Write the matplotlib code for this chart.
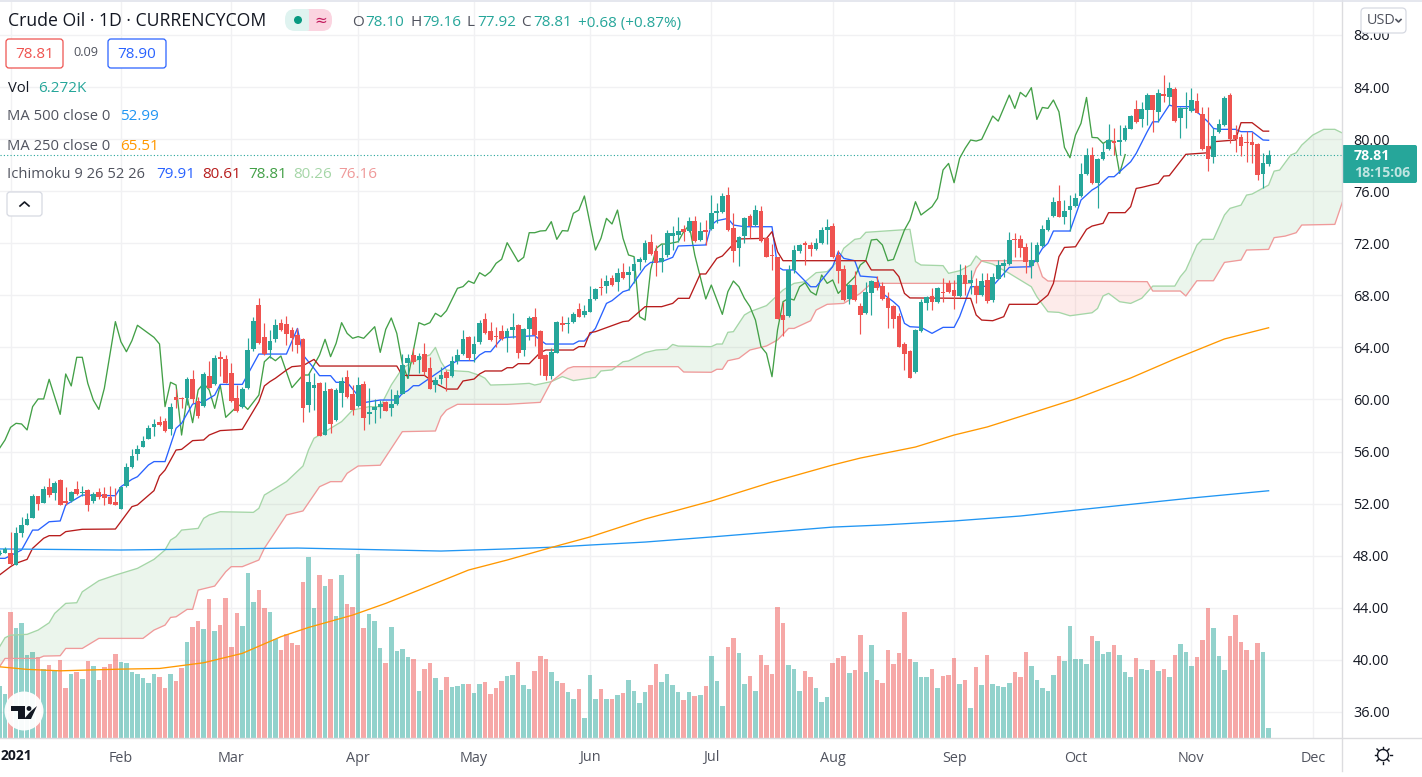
import numpy as np
import matplotlib
matplotlib.use("Agg")
import matplotlib.pyplot as plt
from matplotlib.patches import Rectangle, FancyBboxPatch, Circle, Polygon

plt.rcParams['font.family'] = ['Open Sans', 'DejaVu Sans']

# DAILY CANDLES, ONE VALUE PER TRADING DAY
opens = [48.11,48.23,48.19,47.29,49.72,50.39,50.92,52.59,52.08,53.28,
52.82,53.82,52.23,52.18,53.1,52.79,53.05,52.23,52.9,52.77,
52.49,52.1,51.62,53.36,54.82,55.81,56.38,56.97,57.89,58.27,
58.35,57.71,60.17,60.09,60.09,61.55,59.86,59.5,61.8,61.19,
63.26,63.11,62.01,60.11,59.4,60.86,63.88,67.26,64.8,63.8,
64.65,65.87,65.8,65.34,64.93,64.65,59.58,60.91,61.27,57.3,
60.81,58.43,60.5,61.7,60.42,59.5,61.19,58.91,59.22,59.45,
59.81,59.37,59.65,60.45,62.8,63.42,63.03,63.49,62.42,61.11,
61.57,62.11,61.8,62.96,63.49,64.8,63.49,64.41,66.18,65.26,
64.88,65.23,64.77,65.34,65.72,63.8,65.41,66.33,65.26,63.42,
61.83,63.6,65.85,65.82,65.95,66.95,66.49,66.75,67.72,68.61,
68.72,69.33,69.02,69.79,69.56,69.87,70.56,70.71,72.1,71.4,
70.56,71.1,72.56,72.63,73.09,72.94,73.71,72.25,73.02,73.09,
74.3,74.4,75.7,73.17,71.63,72.56,74.09,73.4,74.48,72.4,
71.07,70.92,66.49,66.41,69.95,71.4,71.99,71.86,71.56,72.02,
73.02,73.32,71.1,70.02,67.69,68.79,67.18,66.64,68.18,69.02,
68.72,67.8,67.18,66.41,64.26,63.72,62.11,65.26,67.41,67.95,
67.49,68.26,68.95,68.41,67.94,69.56,68.97,68.71,68.02,69.17,
67.64,69.25,70.25,70.4,72.32,72.3,71.71,70.25,70.58,71.78,
73.01,74.09,75.24,74.01,74.55,74.86,75.63,77.31,78.77,76.63,
78.47,79.24,79.85,79.75,79.93,80.8,82.31,81.51,82.23,83.38,
82.1,83.46,83.25,83.84,81.64,82.28,82.18,82.92,81.92,79.47,
78.62,80.54,81.08,83.38,80.31,80.16,79.77,79.75,79.62,77.31,
78.10]
highs = [48.44,48.64,49.85,50.23,50.95,51.26,52.74,52.59,53.38,53.94,
53.71,53.87,53.31,53.0,53.77,53.36,53.1,52.92,53.18,53.25,
53.36,53.18,53.31,55.1,56.17,56.5,57.2,58.04,58.48,58.76,
58.55,59.7,60.78,60.22,61.7,62.26,60.22,62.14,62.98,63.42,
63.7,63.42,62.83,61.11,60.98,64.7,66.31,67.77,65.9,65.34,
66.18,66.21,66.41,65.54,65.46,64.7,62.01,62.06,61.32,61.32,
60.86,60.86,61.7,62.26,61.11,61.7,61.42,60.86,60.01,59.96,
59.86,60.78,60.73,63.49,63.49,63.93,63.55,64.31,63.29,61.75,
62.52,62.26,63.34,63.85,65.34,64.88,64.88,66.1,66.62,65.93,
65.54,65.72,65.46,66.62,65.77,65.46,66.44,67.03,65.31,63.47,
63.93,66.05,66.44,66.36,66.74,67.38,67.26,68.72,68.54,69.3,
69.56,69.56,70.07,70.46,70.25,70.92,70.92,72.25,72.71,71.86,
71.94,73.02,73.32,74.04,73.4,73.99,74.09,73.66,73.78,75.7,
75.06,75.83,76.29,74.3,72.58,74.04,74.25,74.94,74.86,72.43,
71.94,70.97,67.51,70.33,71.86,71.94,72.17,72.12,72.38,73.27,
73.86,73.53,71.48,70.33,68.84,69.87,67.38,69.05,69.18,69.48,
69.05,68.28,67.26,66.62,64.44,63.8,65.39,67.69,67.95,68.54,
68.66,69.3,69.18,69.18,70.4,70.33,69.94,69.3,69.69,69.69,
69.69,70.71,70.76,72.89,72.76,72.63,72.04,72.12,72.12,73.4,
74.04,75.57,76.47,75.32,75.7,75.83,78.13,79.29,79.41,78.52,
79.67,81.15,80.82,81.08,81.08,81.85,83.0,82.87,83.51,83.38,
83.82,84.92,84.38,83.97,82.49,83.64,83.89,83.51,82.49,82.49,
80.82,81.51,83.3,83.51,81.08,80.39,80.64,80.57,79.67,78.9,
79.16]
lows = [48.06,48.19,47.29,47.29,49.46,50.39,50.92,51.51,52.03,52.49,
52.28,51.9,51.9,52.13,52.66,52.59,51.44,52.08,52.33,51.87,
51.95,51.87,51.62,53.31,54.71,55.35,56.38,56.97,57.2,57.96,
57.53,57.27,59.32,59.32,59.58,59.76,58.55,59.45,60.86,61.11,
61.8,61.24,59.83,59.06,59.32,60.8,63.75,64.26,63.42,63.16,
64.44,65.26,64.19,63.75,63.55,58.27,59.06,59.19,57.2,57.25,
57.45,58.37,59.4,60.14,58.81,59.45,57.66,58.14,58.17,58.55,
59.09,58.76,59.58,60.42,61.62,62.73,62.01,61.88,60.78,60.58,
61.19,60.65,61.75,62.73,63.44,63.03,62.9,64.26,65.03,64.52,
64.06,64.57,63.67,64.7,63.16,63.34,64.57,64.13,61.88,61.5,
61.55,63.55,65.29,65.13,65.85,66.31,66.31,66.72,67.64,68.02,
68.2,68.72,68.33,69.28,68.41,68.92,69.95,70.59,71.12,69.48,
69.82,70.92,71.48,72.12,72.2,72.89,72.12,72.2,71.86,73.02,
73.53,74.35,72.97,70.59,70.25,72.04,72.38,73.32,72.12,70.92,
69.95,66.16,64.9,66.36,69.69,71.23,70.33,71.02,71.48,71.94,
71.94,70.89,68.92,67.59,67.33,67.59,65.03,66.57,66.49,68.41,
67.64,65.49,65.46,64.0,62.27,61.63,62.01,65.21,66.87,66.87,
67.38,67.51,68.2,66.92,67.89,68.02,68.1,67.43,67.97,67.43,
67.51,69.22,69.43,70.35,70.97,70.97,69.69,69.3,70.53,71.73,
72.96,74.04,73.99,73.47,72.96,74.75,75.57,77.24,76.55,74.73,
78.39,79.16,78.77,78.77,79.87,80.75,81.21,80.95,81.08,80.57,
81.33,82.87,82.61,81.33,80.08,80.82,82.1,81.97,79.16,77.57,
78.13,80.49,81.03,79.67,79.03,78.72,78.26,78.19,76.85,76.21,
77.92]
closes = [48.19,48.49,47.37,49.77,50.33,50.82,52.59,52.0,53.13,52.66,
53.56,51.9,52.03,52.9,52.74,52.84,51.9,52.74,52.54,52.41,
52.0,51.9,53.25,54.79,55.64,56.2,56.81,57.79,58.09,58.04,
57.58,59.42,59.96,60.01,61.57,60.01,58.73,61.96,60.88,63.19,
63.14,61.27,59.88,59.14,60.8,63.8,66.03,64.34,63.49,64.49,
65.7,65.34,65.03,64.72,64.19,59.35,61.34,61.11,57.22,60.65,
58.12,60.73,61.42,60.19,59.19,61.11,58.58,59.04,59.42,59.65,
59.12,59.65,60.32,62.65,63.19,62.88,63.34,62.11,60.8,61.5,
61.88,61.65,62.96,63.42,64.65,63.19,64.26,65.87,65.08,64.57,
64.77,64.65,65.26,65.54,63.6,65.41,66.23,64.98,63.13,61.83,
63.65,65.95,65.75,65.87,66.57,66.33,66.8,67.72,68.49,68.54,
69.1,68.79,69.71,69.33,69.79,70.41,70.79,72.02,71.17,70.48,
70.87,72.79,72.79,72.94,72.86,73.71,72.17,72.94,72.86,74.32,
74.48,75.63,73.02,71.4,72.48,73.94,73.32,74.55,72.17,70.94,
71.02,66.21,66.1,69.92,71.48,71.86,71.86,71.56,72.02,73.02,
73.22,70.94,69.87,67.64,68.79,67.64,66.49,68.26,69.1,68.59,
67.72,67.03,66.18,64.03,63.49,61.65,65.34,67.49,67.87,67.49,
68.56,68.18,68.26,67.95,69.56,68.87,69.17,68.02,69.1,67.56,
69.4,70.33,70.51,72.25,72.25,71.66,70.58,70.71,71.86,73.09,
73.78,75.16,74.04,74.47,74.86,75.47,77.31,78.77,76.6,78.47,
79.0,79.93,79.72,79.93,80.85,81.77,81.31,82.28,83.38,82.23,
83.54,83.31,83.92,81.39,82.38,82.38,83.0,82.03,79.24,78.47,
80.23,81.15,83.15,80.0,80.0,79.47,79.72,79.57,77.24,78.16,
78.81]
# VOLUME IN THOUSANDS
volume = [31.2,26.4,75.6,66,69,49.8,51.6,48.8,41.4,43.8,
40.2,46.8,30,38.4,39.6,35.4,46.2,43.2,34.8,42.6,
44.4,50.4,45.6,45,39.6,38.4,36,33,38.4,36.6,
30,38.4,34.2,42,57.6,66.6,70.2,65.4,83.4,64.2,
67.8,84,54.6,75,67.2,99,81.6,88.8,78,75.6,
59.4,52.8,62.4,57,55.8,93.6,108.6,78,97.8,91.2,
95.4,73.2,97.8,80.4,78.6,110.4,66,74.4,70.2,54,
45,66.6,52.2,53.4,48.6,47.4,28.2,41.4,45,36,
28.8,36.6,30.6,31.2,32.4,32.4,27,32.4,33.6,26.4,
30,34.2,37.2,37.8,45.6,31.8,29.4,40.2,49.2,47.4,
39.6,34.2,33,27.6,23.4,29.4,12,37.8,23.4,29.4,
23.4,23.4,25.8,27,34.8,28.2,21,27.6,31.8,44.4,
33.6,38.4,31.8,27.6,22.8,27.6,25.2,25.8,31.2,49.2,
34.4,19.4,54.8,60.2,51.2,32.6,37.4,28.4,50,44,
38.6,78.8,69.2,44,41.6,28.4,40.4,36.8,30.2,21.8,
24.8,45.2,48.2,49.4,39.2,41,62,39.8,56,35,
33.2,53,44.6,51.2,75.8,47.6,45.8,36.8,36.8,41.6,
30.2,37.4,38,48.2,32.6,35,18.2,42.8,32,50,
32.6,31.4,30.8,33.2,39.8,36.8,51.8,43.4,35,30.2,
28.4,38,49.4,46.4,67.4,47.6,47.6,44.6,61.4,58.4,
50.6,51.8,56,50,39.8,36.8,48.2,41.6,41,47,
40.4,41.6,36.8,50,56.6,51.8,43.4,48.8,59,78.2,
66.2,49.4,41,61.4,74,57.8,53,47,57.2,51.8,
6.272]

# INDICATORS AS (DAY, PRICE) TURNING POINTS
tenkan = [(0,47.8),(1,47.8),(4,48.44),(6,49.97),(7,49.97),(9,50.61),(11,50.67),(12,51.9),(15,52.66),(21,52.61),
(22,53.3),(24,53.87),(25,54.07),(27,54.97),(28,55.23),(30,55.23),(32,57.79),(33,58.17),(35,59.65),(37,59.83),
(39,60.34),(40,61.16),(44,61.16),(47,63.49),(52,63.49),(54,65.46),(55,63.42),(57,62.39),(58,61.83),(60,61.83),
(61,61.32),(63,61.32),(66,59.76),(69,59.96),(72,59.96),(73,60.47),(74,60.68),(75,61.06),(76,61.06),(81,62.52),
(83,62.98),(86,62.98),(87,63.42),(88,63.67),(89,63.67),(91,64.7),(92,64.77),(97,64.9),(98,64.57),(99,64.26),
(104,64.26),(105,64.49),(106,64.49),(108,65.46),(110,67.38),(111,67.59),(113,68.28),(114,68.41),(117,70.2),(118,70.53),
(120,70.59),(122,70.92),(123,71.79),(128,71.87),(129,73.4),(130,73.73),(132,73.91),(133,73.4),(135,73.27),(140,73.27),
(141,70.2),(142,69.95),(144,69.95),(147,68.66),(148,68.66),(151,70.2),(152,71.35),(153,70.84),(155,70.66),(156,69.48),
(159,69.38),(160,68.15),(162,67.51),(163,67.13),(164,65.85),(165,65.59),(167,65.54),(169,65.08),(171,65.54),(173,65.54),
(174,66.36),(176,68.66),(180,68.71),(183,70.15),(187,70.2),(189,71.6),(190,72.0),(191,72.94),(194,72.94),(196,75.32),
(198,76.09),(199,76.34),(201,77.11),(202,77.11),(205,78.26),(206,78.9),(208,80.57),(209,81.33),(210,81.33),(212,82.61),
(213,82.49),(216,82.49),(217,82.1),(219,81.33),(220,80.82),(221,80.75),(224,80.75),(225,80.57),(227,80.57),(229,79.93),(230,79.91)]
kijun = [(0,46.52),(2,47.16),(3,47.42),(5,47.72),(6,48.57),(8,49.34),(9,49.54),(11,49.54),(12,49.85),(15,50.03),
(21,50.05),(22,50.62),(24,51.77),(25,51.9),(28,53.0),(29,54.12),(30,54.58),(32,56.12),(33,56.17),(35,56.84),
(37,56.89),(38,57.27),(40,57.61),(44,57.71),(47,59.83),(48,61.04),(49,61.37),(50,61.63),(52,62.26),(53,62.52),
(55,62.6),(57,63.08),(58,62.57),(72,62.57),(73,61.85),(77,61.85),(79,61.24),(81,60.8),(83,60.8),(84,61.42),
(86,61.57),(87,61.96),(88,62.19),(91,62.19),(92,62.44),(93,62.44),(94,62.75),(96,62.75),(98,63.6),(99,63.8),
(104,63.8),(105,64.06),(106,64.06),(107,65.13),(108,65.21),(113,65.98),(114,66.03),(117,67.13),(120,67.13),(122,67.38),
(123,67.77),(125,67.77),(127,69.64),(128,69.64),(130,70.84),(131,71.02),(133,71.94),(134,72.33),(138,72.37),(139,72.37),
(140,72.89),(141,71.35),(142,70.66),(157,70.66),(158,69.95),(162,69.95),(163,69.43),(164,68.15),(165,67.8),(176,67.77),
(177,66.49),(178,66.1),(180,66.05),(182,66.36),(183,67.31),(188,67.31),(190,68.02),(191,68.92),(192,70.97),(193,71.68),
(195,71.73),(197,73.07),(198,73.32),(200,73.53),(201,74.35),(204,74.35),(205,74.81),(206,76.21),(207,76.29),(210,76.6),
(211,77.16),(212,77.19),(215,78.83),(219,78.95),(220,79.8),(224,79.93),(225,81.26),(227,81.26),(229,80.61),(230,80.61)]
chikou = [(0,56.25),(1,56.89),(2,57.86),(3,58.17),(4,58.12),(5,57.66),(6,59.45),(7,60.04),(8,60.04),(9,61.55),
(11,58.86),(12,61.96),(13,61.04),(14,63.24),(15,63.24),(16,61.24),(17,59.96),(18,59.24),(19,60.86),(21,65.98),
(22,64.44),(23,63.67),(24,64.52),(25,65.7),(26,65.39),(27,65.08),(28,64.77),(29,64.26),(30,59.45),(31,61.32),
(32,61.11),(33,57.27),(34,60.22),(35,58.22),(36,60.73),(37,61.24),(38,60.73),(39,59.32),(40,61.11),(41,58.63),
(43,59.45),(44,59.65),(45,59.24),(47,60.34),(48,62.9),(49,63.29),(50,62.98),(51,63.34),(53,60.91),(55,61.88),
(56,61.88),(58,63.42),(59,64.62),(60,63.29),(61,64.31),(62,65.9),(63,65.08),(64,64.7),(65,64.83),(66,64.7),
(68,65.59),(69,63.62),(70,65.39),(71,66.26),(72,65.08),(73,62.78),(74,61.62),(76,65.9),(77,65.72),(78,65.9),
(79,66.62),(80,66.36),(81,66.82),(83,68.54),(84,68.67),(85,69.1),(86,68.92),(87,69.74),(88,69.48),(89,69.82),
(90,70.46),(91,70.77),(92,72.04),(94,70.59),(95,70.92),(96,72.81),(97,72.81),(98,72.94),(99,72.97),(100,73.66),
(101,72.3),(102,72.97),(103,72.94),(104,74.3),(105,74.55),(106,75.63),(108,71.48),(109,72.38),(110,73.91),(111,73.48),
(112,74.55),(113,72.38),(114,71.1),(115,70.97),(116,66.36),(117,66.1),(118,69.95),(119,71.6),(120,71.94),(121,71.94),
(123,72.12),(124,72.89),(125,73.4),(126,71.1),(128,67.72),(129,68.79),(131,66.54),(132,68.28),(133,69.1),(134,68.66),
(135,67.77),(136,67.13),(137,66.1),(138,64.06),(139,63.54),(140,61.75),(141,65.34),(142,67.51),(143,67.77),(144,67.64),
(145,68.66),(146,68.97),(147,68.28),(148,68.02),(149,69.56),(150,68.92),(151,69.18),(152,68.15),(155,69.43),(156,70.33),
(157,70.66),(158,72.25),(159,72.3),(160,71.87),(161,70.66),(162,70.76),(164,73.02),(165,73.78),(166,75.19),(167,74.17),
(169,74.81),(170,75.45),(171,77.63),(172,78.13),(173,76.65),(174,78.52),(175,79.29),(176,79.93),(177,79.85),(178,79.98),
(180,81.77),(181,81.38),(183,83.38),(184,82.36),(185,83.59),(186,83.25),(187,83.95),(188,81.51),(189,82.43),(190,82.36),
(191,83.0),(192,82.1),(193,79.36),(194,78.57),(195,80.31),(196,81.21),(197,83.2),(198,80.13),(199,80.1),(200,79.67),
(201,79.93),(202,79.8),(203,77.37),(204,78.81)]
span_a = [(0,41.0),(1,41.7),(2,41.9),(5,41.96),(7,42.29),(9,42.85),(10,43.57),(12,44.34),(14,44.39),(15,45.23),
(18,46.08),(21,46.51),(25,47.03),(28,47.72),(30,48.44),(31,49.2),(32,49.47),(33,49.97),(36,50.1),(37,50.87),
(38,51.13),(40,51.38),(46,51.33),(47,51.64),(48,52.66),(49,52.92),(52,53.69),(55,54.89),(56,56.12),(57,57.02),
(58,57.27),(62,58.3),(64,59.19),(67,59.45),(69,59.45),(71,61.11),(72,61.75),(73,62.39),(75,62.9),(77,63.29),
(78,63.42),(79,64.0),(80,62.9),(81,62.26),(83,62.19),(85,62.14),(87,61.85),(88,61.63),(89,61.11),(93,61.16),
(96,61.24),(97,61.11),(100,61.37),(102,61.76),(104,61.45),(108,61.7),(109,62.19),(111,62.27),(113,62.9),(114,62.96),
(117,63.6),(119,63.8),(121,63.85),(122,64.23),(123,64.1),(129,64.06),(130,64.26),(131,64.26),(132,65.16),(133,65.21),
(135,66.49),(136,66.74),(139,67.21),(142,68.41),(144,68.92),(146,69.05),(148,69.74),(150,69.82),(152,70.66),(153,71.61),
(155,72.3),(156,72.37),(157,72.84),(165,73.07),(166,70.59),(167,70.33),(171,70.28),(172,69.69),(174,69.89),(176,70.33),
(177,71.02),(178,70.63),(180,70.4),(183,69.69),(187,68.66),(188,67.89),(190,66.74),(192,66.69),(194,66.43),(198,66.66),
(199,66.99),(200,67.95),(201,68.15),(203,67.51),(205,67.38),(207,67.77),(209,68.71),(213,68.71),(214,69.43),(215,69.94),
(217,71.86),(218,72.3),(220,72.3),(222,74.17),(223,74.68),(225,74.93),(226,75.7),(227,75.78),(230,76.47),(231,77.54),
(232,77.62),(234,78.77),(235,78.95),(236,79.54),(238,80.31),(240,80.75),(242,80.75),(243.5,80.44)]
span_b = [(0,39.47),(1,40.11),(7,40.11),(8,40.29),(11,40.32),(12,40.88),(15,40.88),(18,41.65),(26,41.65),(28,42.29),
(30,42.67),(31,43.26),(32,43.31),(34,43.88),(35,43.88),(36,45.36),(39,45.67),(41,46.77),(42,47.16),(44,47.16),
(47,47.67),(48,48.57),(52,51.13),(55,51.44),(58,53.3),(60,53.69),(62,53.69),(63,54.33),(65,54.89),(69,54.95),
(73,57.53),(79,57.58),(80,58.68),(81,59.19),(83,59.63),(92,59.63),(98,59.78),(100,61.37),(103,62.39),(104,62.52),
(123,62.52),(124,62.11),(129,62.09),(130,62.32),(131,62.32),(132,62.98),(134,63.16),(136,63.8),(139,64.11),(141,64.57),
(143,65.46),(144,65.46),(147,66.05),(148,66.87),(150,67.31),(153,67.38),(156,68.15),(158,68.92),(176,68.92),(177,70.07),
(178,70.66),(188,70.66),(189,69.43),(190,69.1),(208,69.05),(209,68.33),(214,68.33),(215,67.95),(217,69.12),(220,69.12),
(222,70.53),(225,70.71),(226,71.48),(230,71.53),(231,72.43),(233,72.55),(235,72.81),(236,73.4),(242,73.45),(243.5,75.32)]
ma500 = [(0,48.52),(22,48.44),(54,48.59),(80,48.36),(92,48.52),(101,48.67),(107,48.82),(117,49.05),(129,49.44),(140,49.82),(151,50.2),(160,50.36),(173,50.67),(185,51.05),(197,51.59),(216,52.43),(230,52.99)]
ma250 = [(0,39.47),(5,39.27),(11,39.16),(22,39.29),(29,39.34),(37,39.78),(44,40.5),(51,41.78),(56,42.49),(64,43.44),(70,44.34),(76,45.36),(85,46.9),(92,47.67),(101,48.75),(107,49.44),(117,50.82),(129,52.2),(140,53.66),(151,54.97),(156,55.5),(166,56.35),(173,57.27),(179,57.89),(187,58.96),(195,60.04),(205,61.65),(213,63.11),(222,64.65),(230,65.51)]

# AXIS LABELS
month_days = [22,42,65,86,107,129,151,173,195,216,238]
month_names = ['Feb','Mar','Apr','May','Jun','Jul','Aug','Sep','Oct','Nov','Dec']
year_day = 2
price_ticks = list(range(36,92,4))

UP = '#26a69a'
DOWN = '#ef5350'
W, H = 1422, 777
PLOT_R, PLOT_B = 1342, 738
TXT = '#131722'
GREY = '#50535e'
VAL = 11
LBL = 10.6

fig = plt.figure(figsize=(W/100, H/100), dpi=100, facecolor='white')
rect = [0, 1-PLOT_B/H, PLOT_R/W, (PLOT_B-2)/H]
x_lim = (0.09, 243.3)
y_lim = (34.0, 90.53)

# GRID AND PRICE LABELS SIT AT THE BACK, THEN VOLUME, THEN PRICE
ax_grid = fig.add_axes(rect, zorder=0)
ax_grid.set_xlim(x_lim)
ax_grid.set_ylim(y_lim)
ax_grid.yaxis.tick_right()
ax_grid.set_yticks(price_ticks)
ax_grid.set_yticklabels(['%.2f' % p for p in price_ticks], fontsize=10.4, color=TXT)
ax_grid.set_xticks([year_day] + month_days)
ax_grid.set_xticklabels([''] + month_names, fontsize=10.4, color=GREY)
ax_grid.tick_params(axis='y', length=0, pad=8)
ax_grid.tick_params(axis='x', length=0, pad=9)
ax_grid.grid(color='#f1f1f3', linewidth=1)
for s in ax_grid.spines.values():
    s.set_visible(False)

days = np.arange(len(closes))
o = np.array(opens)
c = np.array(closes)
up = c >= o
colors = np.where(up, UP, DOWN)

ax_vol = fig.add_axes(rect, zorder=1)
ax_vol.patch.set_alpha(0)
ax_vol.set_xlim(x_lim)
ax_vol.set_ylim(0, (PLOT_B-2)*0.6)
ax_vol.bar(days, volume, width=0.82, color=colors, alpha=0.5, linewidth=0)
ax_vol.axis('off')

ax = fig.add_axes(rect, zorder=2)
ax.patch.set_alpha(0)
ax.set_xlim(x_lim)
ax.set_ylim(y_lim)
ax.axis('off')

# ICHIMOKU CLOUD
ax_a = np.array(span_a).T
ax_b = np.array(span_b).T
cloud_x = np.arange(0, 245)
cloud_a = np.interp(cloud_x, ax_a[0], ax_a[1])
cloud_b = np.interp(cloud_x, ax_b[0], ax_b[1])
ax.fill_between(cloud_x, cloud_a, cloud_b, where=cloud_a >= cloud_b, interpolate=True, color='#43a047', alpha=0.1, linewidth=0)
ax.fill_between(cloud_x, cloud_a, cloud_b, where=cloud_a < cloud_b, interpolate=True, color='#f44336', alpha=0.1, linewidth=0)
ax.plot(ax_a[0], ax_a[1], color='#a5d6a7', lw=0.95)
ax.plot(ax_b[0], ax_b[1], color='#ef9a9a', lw=0.95)

for line, col in [(chikou,'#43a047'), (tenkan,'#2962ff'), (kijun,'#b71c1c'), (ma500,'#2196f3'), (ma250,'#ff9800')]:
    arr = np.array(line).T
    ax.plot(arr[0], arr[1], color=col, lw=0.95)

ax.axhline(closes[-1], color=UP, lw=0.8, linestyle=(0, (1, 2)), zorder=1.5)

# CANDLES
ax.vlines(days, lows, highs, colors=colors, lw=0.85, zorder=3)
ax.bar(days, np.maximum(np.abs(c-o), 0.08), bottom=np.minimum(o, c), width=0.85, color=colors, linewidth=0, zorder=3)

# OVERLAY IN PIXELS FOR THE TOOLBAR STUFF
ui = fig.add_axes([0, 0, 1, 1], zorder=5)
ui.set_xlim(0, W)
ui.set_ylim(H, 0)
ui.axis('off')
ui.patch.set_alpha(0)

LINE = '#dcdcdf'
ui.plot([PLOT_R, PLOT_R], [0, 771], color=LINE, lw=1)
ui.plot([0, W], [PLOT_B, PLOT_B], color=LINE, lw=1)
ui.plot([0, W], [0.5, 0.5], color='#e0e3eb', lw=1.2)

def txt(x, y, s, color=TXT, size=LBL, ha='left', **kw):
    ui.text(x, y, s, color=color, fontsize=size, ha=ha, va='center', **kw)

def box(x0, y0, x1, y1, edge, face='white', r=3, lw=0.9):
    ui.add_patch(FancyBboxPatch((x0+r, y0+r), x1-x0-2*r, y1-y0-2*r, boxstyle='round,pad=%d,rounding_size=%d' % (r, r),
                                edgecolor=edge, facecolor=face, lw=lw))

txt(8, 21, 'Crude Oil · 1D · CURRENCYCOM', size=12.7)
txt(1, 756, '2021', size=10, fontweight='bold')

# STATUS PILL
ui.add_patch(FancyBboxPatch((300, 9), 32, 22, boxstyle='round,pad=0,rounding_size=10', fc='#fbd4e0', ec='none'))
ui.add_patch(FancyBboxPatch((285, 9), 30, 22, boxstyle='round,pad=0,rounding_size=10', fc='#dff3f0', ec='none'))
ui.add_patch(Rectangle((309, 9), 12, 22, fc='#fbd4e0', ec='none'))
ui.add_patch(Circle((298, 20), 4, fc='#089981', ec='none'))
txt(320.5, 20, '≈', color='#c2185b', size=11, ha='center', family=['DejaVu Sans'])

# OHLC ROW
for x, s, col in [(352,'O',GREY),(365,'78.10',UP),(410,'H',GREY),(422,'79.16',UP),(467,'L',GREY),(477,'77.92',UP),
                  (521,'C',GREY),(533,'78.81',UP),(578,'+0.68 (+0.87%)',UP)]:
    txt(x, 23, s, color=col, size=VAL)

box(6, 39, 63, 68, DOWN)
txt(34.5, 54, '78.81', color=DOWN, size=VAL, ha='center')
txt(85.5, 53, '0.09', color=GREY, size=9.2, ha='center')
box(108, 39, 166, 68, '#2962ff')
txt(137, 54, '78.90', color='#2962ff', size=VAL, ha='center')

txt(8, 88, 'Vol')
txt(38, 88, '6.272K', color=UP, size=VAL)
txt(7, 117, 'MA 500 close 0', color=GREY)
txt(120, 117, '52.99', color='#2196f3', size=VAL)
txt(7, 146, 'MA 250 close 0', color=GREY)
txt(120, 146, '65.51', color='#ff9800', size=VAL)
txt(7, 175, 'Ichimoku 9 26 52 26', color=GREY)
for x, s, col in [(156,'79.91','#2962ff'),(202,'80.61','#b71c1c'),(248,'78.81','#43a047'),(293,'80.26','#a5d6a7'),(338,'76.16','#ef9a9a')]:
    txt(x, 175, s, color=col, size=VAL)

# COLLAPSE BUTTON
box(7, 192, 42, 216, '#d6d9e2')
ui.plot([20, 24.5, 29], [206, 202, 206], color=TXT, lw=1.2)

# USD BUTTON
box(1361, 8, 1406, 33, '#d6d9e2', r=4)
txt(1367, 20.5, 'USD', color=GREY, size=10.4)
ui.plot([1396, 1398.5, 1401], [19.5, 22, 19.5], color=GREY, lw=1.2)

# LAST PRICE TAG
box(1342, 145, 1417, 183, UP, face=UP, r=2, lw=0)
txt(1354, 156, '78.81', color='white', size=10.2, fontweight='bold')
txt(1354, 173, '18:15:06', color='#bfe5e1', size=10.2, fontweight='bold')

# TV LOGO
ui.add_patch(Circle((24, 711), 19.5, fc='white', ec='none', alpha=0.95))
ui.add_patch(Polygon([(11, 706), (25, 706), (25, 719), (18, 719), (18, 711), (11, 711)], closed=True, fc='#131722', ec='none'))
ui.add_patch(Circle((29, 708.5), 2.4, fc='#131722', ec='none'))
ui.add_patch(Polygon([(30, 712), (37, 706), (31, 719), (24, 719)], closed=True, fc='#131722', ec='none'))

# SETTINGS ICON
ui.add_patch(Circle((1383, 755), 5.5, fc='none', ec=TXT, lw=1))
for a in np.deg2rad(np.arange(0, 360, 45)):
    ui.plot([1383+6.5*np.cos(a), 1383+8.5*np.cos(a)], [755+6.5*np.sin(a), 755+8.5*np.sin(a)], color=TXT, lw=1)

fig.savefig('out.png', dpi=100)
